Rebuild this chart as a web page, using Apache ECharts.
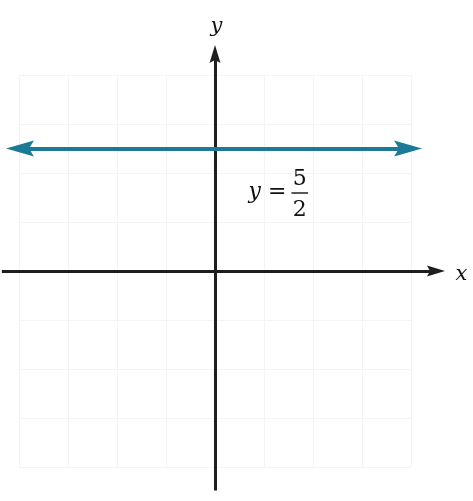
<!DOCTYPE html>
<html>
<head>
<meta charset="utf-8">
<script src="https://cdn.jsdelivr.net/npm/echarts@6/dist/echarts.min.js"></script>
<style>
  html, body { margin: 0; padding: 0; background: #fff; }
  #main { width: 473px; height: 501px; }
</style>
</head>
<body>
<div id="main"></div>
<script>
// 数据：坐标轴两端、水平直线 y = 5/2
let xAxisEnds = [[-4.35, 0], [4.51, 0]];
let yAxisEnds = [[0, -4.48], [0, 4.43]];
let lineY = 2.5;
let lineEnds = [[-3.98, lineY], [3.94, lineY]];
// 分数线与文字位置
let fracBar = [[1.56, 1.6], [1.9, 1.6]];
let axisNames = [
  { name: 'y', value: [0.03, 4.98] },
  { name: 'x', value: [5.03, -0.07] }
];
let eqLabels = [
  { name: 'y =', value: [1.07, 1.6] },
  { name: '5', value: [1.73, 1.88] },
  { name: '2', value: [1.73, 1.24] }
];

let chartDom = document.getElementById('main');
let mycharts = echarts.init(chartDom);
let option;

let serif = '"DejaVu Serif", "Liberation Serif", serif';
// 箭头：细长的燕尾形，外框为正方形以免变形
let bigArrow = 'path://M0,0 L0,0 M28,0 L28,0 M14,0 L22,28 L14,23 L6,28 Z';
let smallArrow = 'path://M0,0 L0,0 M18,0 L18,0 M9,0 L14.5,18 L9,15 L3.5,18 Z';

option = {
  animation: false,
  backgroundColor: '#fff',
  grid: { left: 19, right: 62, top: 75, bottom: 34 },
  xAxis: {
    type: 'value',
    min: -4,
    max: 4,
    interval: 1,
    axisLine: { show: false },
    axisTick: { show: false },
    axisLabel: { show: false },
    splitLine: { lineStyle: { color: '#f4f4f4', width: 1 } }
  },
  yAxis: {
    type: 'value',
    min: -4,
    max: 4,
    interval: 1,
    axisLine: { show: false },
    axisTick: { show: false },
    axisLabel: { show: false },
    splitLine: { lineStyle: { color: '#f4f4f4', width: 1 } }
  },
  series: [
    {
      // x 轴
      type: 'lines',
      coordinateSystem: 'cartesian2d',
      clip: false,
      symbol: ['none', smallArrow],
      symbolSize: 18,
      lineStyle: { color: '#1e1e1e', width: 3, opacity: 1 },
      itemStyle: { color: '#1e1e1e' },
      data: [{ coords: xAxisEnds }]
    },
    {
      // y 轴
      type: 'lines',
      coordinateSystem: 'cartesian2d',
      clip: false,
      symbol: ['none', smallArrow],
      symbolSize: 18,
      lineStyle: { color: '#1e1e1e', width: 3, opacity: 1 },
      itemStyle: { color: '#1e1e1e' },
      data: [{ coords: yAxisEnds }]
    },
    {
      // y = 5/2
      type: 'lines',
      coordinateSystem: 'cartesian2d',
      clip: false,
      symbol: [bigArrow, bigArrow],
      symbolSize: 28,
      lineStyle: { color: '#1b7b96', width: 4, opacity: 1 },
      itemStyle: { color: '#1b7b96' },
      data: [{ coords: lineEnds }]
    },
    {
      // 分数线
      type: 'lines',
      coordinateSystem: 'cartesian2d',
      clip: false,
      symbol: 'none',
      lineStyle: { color: '#222', width: 1.5, opacity: 1 },
      data: [{ coords: fracBar }]
    },
    {
      type: 'scatter',
      clip: false,
      symbolSize: 0,
      itemStyle: { opacity: 1 },
      label: {
        show: true,
        position: 'inside',
        formatter: '{b}',
        color: '#111',
        fontFamily: serif,
        fontStyle: 'italic',
        fontSize: 21
      },
      data: axisNames
    },
    {
      type: 'scatter',
      clip: false,
      symbolSize: 0,
      itemStyle: { opacity: 1 },
      label: {
        show: true,
        position: 'inside',
        color: '#111',
        fontFamily: serif,
        fontSize: 22,
        formatter: function (p) {
          if (p.name === 'y =') return '{i|y} {n|=}';
          return '{n|' + p.name + '}';
        },
        rich: {
          i: { fontFamily: serif, fontStyle: 'italic', fontSize: 22, color: '#111' },
          n: { fontFamily: serif, fontSize: 22, color: '#111' }
        }
      },
      data: eqLabels
    }
  ]
};
option && mycharts.setOption(option);
</script>
</body>
</html>
